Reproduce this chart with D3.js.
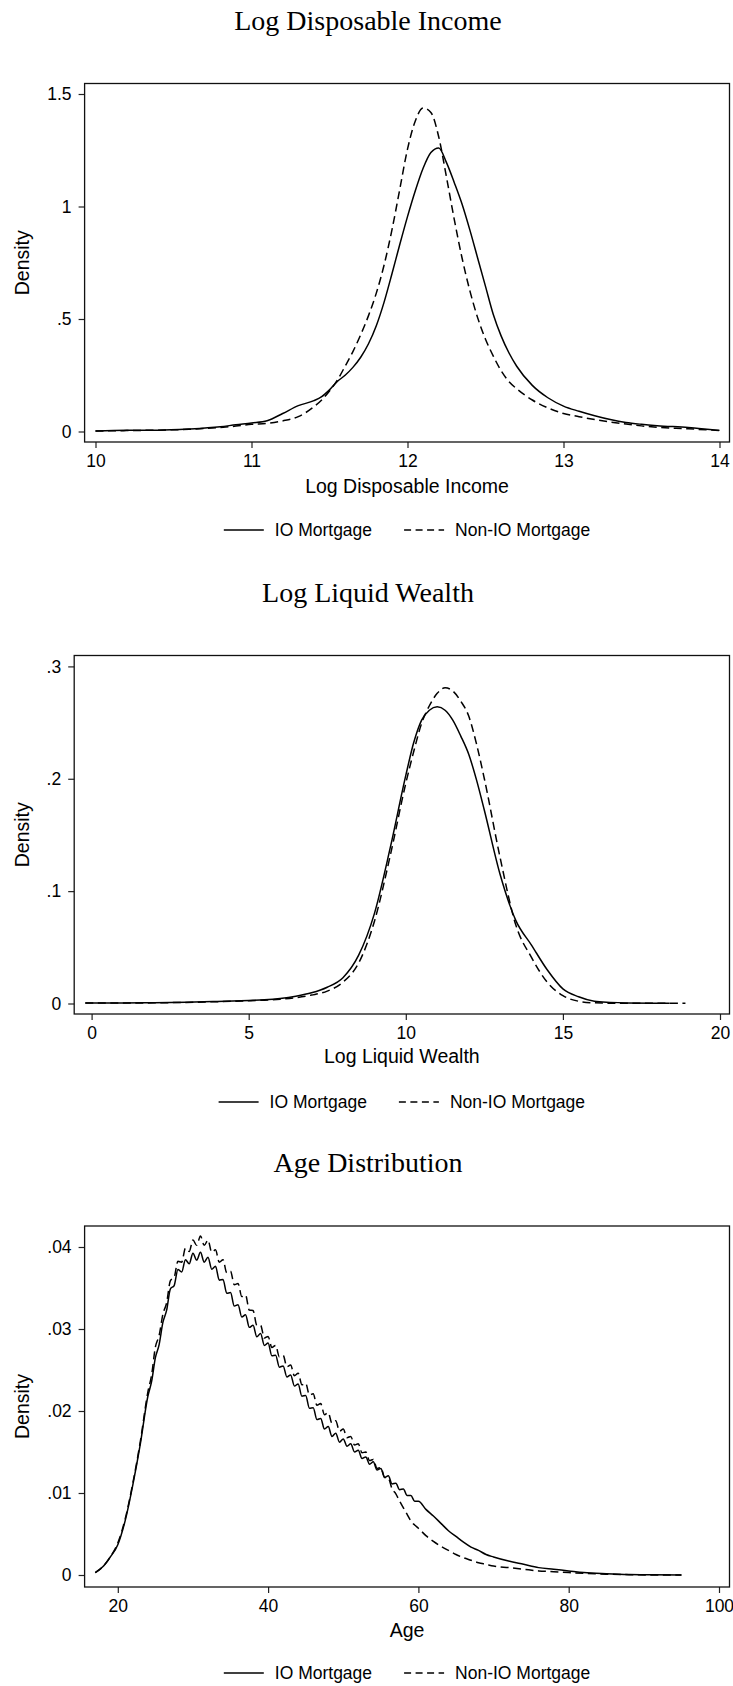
<!DOCTYPE html>
<html>
  <head>
    <meta charset="utf-8">
    <title>IO vs Non-IO mortgage densities</title>
    <script src="https://d3js.org/d3.v7.min.js"></script>
    <style>
      body { margin: 0; background: #fff; }
      svg { display: block; }
      .title { font-family: "Liberation Serif", "Times New Roman", serif; font-size: 28px; fill: #000; }
      .sans { font-family: "Liberation Sans", Arial, sans-serif; fill: #000; }
    </style>
  </head>
  <body>
    <svg id="chart" width="733" height="1686"></svg>
    <script>
      // ---- data ----
      var seriesNames = ["IO Mortgage", "Non-IO Mortgage"];
      var titles = ["Log Disposable Income", "Log Liquid Wealth", "Age Distribution"];
      var xTitles = ["Log Disposable Income", "Log Liquid Wealth", "Age"];
      var yTitle = "Density";

      // log disposable income
      var incomeX = [10.0, 10.2, 10.4, 10.6, 10.8, 10.9, 11.0, 11.1, 11.2, 11.3, 11.4, 11.45, 11.5, 11.55, 11.6, 11.65,
        11.7, 11.75, 11.8, 11.85, 11.9, 11.95, 12.0, 12.05, 12.1, 12.15, 12.2, 12.25, 12.3, 12.35, 12.4, 12.45,
        12.5, 12.55, 12.6, 12.65, 12.7, 12.8, 12.9, 13.0, 13.1, 13.2, 13.3, 13.4, 13.5, 13.6, 13.8, 14.0];
      var incomeIO = [0.002, 0.006, 0.006, 0.011, 0.021, 0.03, 0.038, 0.048, 0.08, 0.115, 0.137, 0.155, 0.185, 0.222, 0.25, 0.285,
        0.33, 0.39, 0.47, 0.575, 0.70, 0.83, 0.955, 1.07, 1.17, 1.24, 1.26, 1.195, 1.106, 1.01, 0.895, 0.77,
        0.645, 0.52, 0.425, 0.35, 0.29, 0.205, 0.15, 0.113, 0.09, 0.07, 0.053, 0.04, 0.032, 0.026, 0.018, 0.005];
      var incomeNonIO = [0.002, 0.004, 0.006, 0.01, 0.018, 0.024, 0.032, 0.036, 0.047, 0.066, 0.11, 0.14, 0.18, 0.228, 0.29, 0.355,
        0.43, 0.515, 0.615, 0.74, 0.895, 1.075, 1.255, 1.38, 1.438, 1.418, 1.31, 1.13, 0.942, 0.77, 0.625, 0.505,
        0.41, 0.335, 0.27, 0.222, 0.19, 0.14, 0.105, 0.08, 0.066, 0.053, 0.042, 0.033, 0.025, 0.019, 0.012, 0.004];
      var incomeTicksX = [10, 11, 12, 13, 14];
      var incomeTicksY = [0, 0.5, 1, 1.5];
      var incomeLabelsY = ["0", ".5", "1", "1.5"];

      // log liquid wealth
      var wealthX = [-0.2, 1, 2, 3, 4, 5, 5.5, 6, 6.5, 7, 7.5, 8, 8.5, 9, 9.5, 10, 10.25, 10.5, 10.75, 11, 11.25, 11.5,
        11.75, 12, 12.25, 12.5, 13, 13.5, 14, 14.5, 15, 15.5, 16, 16.5, 17, 18.4, 18.9];
      var wealthIO = [0.0005, 0.0005, 0.0007, 0.0011, 0.0018, 0.0027, 0.0033, 0.0045, 0.0065, 0.0095, 0.0145, 0.023, 0.043,
        0.08, 0.138, 0.203, 0.232, 0.252, 0.261, 0.264, 0.261, 0.252, 0.238, 0.222, 0.199, 0.172, 0.115, 0.074, 0.052, 0.03,
        0.013, 0.006, 0.002, 0.001, 0.0005, 0.0002, null];
      var wealthNonIO = [0.0004, 0.0004, 0.0006, 0.001, 0.0016, 0.0024, 0.003, 0.0038, 0.0052, 0.0075, 0.011, 0.019, 0.036,
        0.073, 0.131, 0.196, 0.224, 0.249, 0.265, 0.276, 0.281, 0.278, 0.269, 0.256, 0.231, 0.20, 0.13, 0.07, 0.041, 0.019,
        0.007, 0.002, 0.0006, 0.0003, 0.0002, 0.0002, 0.0002];
      var wealthTicksX = [0, 5, 10, 15, 20];
      var wealthTicksY = [0, 0.1, 0.2, 0.3];
      var wealthLabelsY = ["0", ".1", ".2", ".3"];

      // age (single-year ages give the saw-tooth)
      var ageX = [17, 18, 19, 20, 21, 22, 23,
        24, 24.5, 25, 25.5, 26, 26.5, 27, 27.5, 28, 28.5, 29, 29.5, 30, 30.5, 31, 31.5, 32, 32.5, 33, 33.5,
        34, 34.5, 35, 35.5, 36, 36.5, 37, 37.5, 38, 38.5, 39, 39.5, 40, 40.5, 41, 41.5, 42, 42.5, 43, 43.5,
        44, 44.5, 45, 45.5, 46, 46.5, 47, 47.5, 48, 48.5, 49, 49.5, 50, 50.5, 51, 51.5, 52, 52.5, 53, 53.5,
        54, 54.5, 55, 55.5, 56, 56.5, 57, 57.5, 58, 58.5, 59, 59.5, 60,
        61, 62, 63, 64, 65, 66, 67, 68, 69, 70, 72, 74, 76, 78, 80, 82, 85, 88, 91, 95];
      var ageIO = [0.0003, 0.001, 0.0022, 0.0037, 0.0067, 0.011, 0.016,
        0.0218, 0.0236, 0.0265, 0.0281, 0.0308, 0.0323, 0.0349, 0.0353, 0.03725, 0.03695, 0.03845, 0.03795, 0.03925, 0.0384,
        0.03935, 0.03815, 0.03875, 0.0373, 0.03765, 0.03595,
        0.03605, 0.03435, 0.03445, 0.0328, 0.03295, 0.03145, 0.03175, 0.0302, 0.03045, 0.02905, 0.02945, 0.028, 0.0283,
        0.02675, 0.0268, 0.02535, 0.0255, 0.02415, 0.0244, 0.02305,
        0.0233, 0.0218, 0.0219, 0.02035, 0.0204, 0.01895, 0.0191, 0.0178, 0.0181, 0.0169, 0.0173, 0.0162, 0.0166, 0.0157,
        0.016, 0.015, 0.0152, 0.0142, 0.0144, 0.0135,
        0.0138, 0.0128, 0.013, 0.0119, 0.0121, 0.0111, 0.0112, 0.0104, 0.0105, 0.0097, 0.0097, 0.009, 0.009,
        0.008, 0.0072, 0.0063, 0.0054, 0.0047, 0.004, 0.0034, 0.003, 0.0025, 0.0022, 0.0017, 0.0013, 0.0009, 0.0007,
        0.0005, 0.0003, 0.00015, 0.00005, 0.00002, 0];
      var ageNonIO = [0.0003, 0.001, 0.0022, 0.0039, 0.0069, 0.0112, 0.0163,
        0.0223, 0.0244, 0.0278, 0.0292, 0.0318, 0.0332, 0.0359, 0.0363, 0.03825, 0.03815, 0.03985, 0.03945, 0.04085, 0.0402,
        0.04135, 0.0402, 0.04085, 0.03935, 0.03965, 0.03815,
        0.03845, 0.03685, 0.03705, 0.0354, 0.03555, 0.03395, 0.03415, 0.0323, 0.03225, 0.03045, 0.03045, 0.0289, 0.0291,
        0.02775, 0.028, 0.0266, 0.0268, 0.0254, 0.0256, 0.0243,
        0.0246, 0.0232, 0.0234, 0.02195, 0.0221, 0.0207, 0.0209, 0.01955, 0.0198, 0.0185, 0.0188, 0.01755, 0.0178, 0.01675,
        0.0169, 0.01585, 0.016, 0.0149, 0.015, 0.01395,
        0.0141, 0.013, 0.0131, 0.0119, 0.0118, 0.0105, 0.0099, 0.009, 0.0082, 0.0074, 0.0066, 0.0061, 0.0057,
        0.0048, 0.0041, 0.0035, 0.003, 0.0025, 0.0021, 0.0018, 0.0015, 0.0013, 0.0011, 0.0009, 0.0007, 0.0005, 0.0004,
        0.0003, 0.0002, 0.0001, 0.00004, 0.00001, 0];
      var ageTicksX = [20, 40, 60, 80, 100];
      var ageTicksY = [0, 0.01, 0.02, 0.03, 0.04];
      var ageLabelsY = ["0", ".01", ".02", ".03", ".04"];

      // ---- page layout: one stacked panel per variable ----
      var panels = [
        { title: titles[0], xTitle: xTitles[0], xs: incomeX, io: incomeIO, nonIO: incomeNonIO,
          xTicks: incomeTicksX, yTicks: incomeTicksY, yLabels: incomeLabelsY,
          left: 84.6, right: 729.5, top: 83.5, bottom: 442,
          xRange: [95.5, 719.5], yRange: [431.5, 94],
          titleY: 30, xTitleY: 493, legendY: 530 },
        { title: titles[1], xTitle: xTitles[1], xs: wealthX, io: wealthIO, nonIO: wealthNonIO,
          xTicks: wealthTicksX, yTicks: wealthTicksY, yLabels: wealthLabelsY,
          left: 74.2, right: 729.5, top: 655.5, bottom: 1014,
          xRange: [91.6, 720], yRange: [1003.5, 666.4],
          titleY: 602, xTitleY: 1063, legendY: 1102 },
        { title: titles[2], xTitle: xTitles[2], xs: ageX, io: ageIO, nonIO: ageNonIO,
          xTicks: ageTicksX, yTicks: ageTicksY, yLabels: ageLabelsY,
          left: 84.6, right: 729.5, top: 1226, bottom: 1587,
          xRange: [117.8, 719], yRange: [1575, 1247],
          titleY: 1172, xTitleY: 1637, legendY: 1673 }
      ];

      var dash = "8,4.5";

      var svg = d3.select("#chart");
      svg.append("rect").attr("width", 733).attr("height", 1686).attr("fill", "#fff");

      panels.forEach(function(p) {
        var x = d3.scaleLinear().domain(d3.extent(p.xTicks)).range(p.xRange);
        var y = d3.scaleLinear().domain(d3.extent(p.yTicks)).range(p.yRange);
        var g = svg.append("g");

        // panel title
        g.append("text")
          .attr("class", "title")
          .attr("x", 368)
          .attr("y", p.titleY)
          .attr("text-anchor", "middle")
          .text(p.title);

        // axes
        var xAxis = d3.axisBottom(x)
          .tickValues(p.xTicks)
          .tickSize(6)
          .tickPadding(7)
          .tickFormat(d3.format("d"));
        var yAxis = d3.axisLeft(y)
          .tickValues(p.yTicks)
          .tickSize(6)
          .tickPadding(7)
          .tickFormat(function(d, i) { return p.yLabels[i]; });
        var gx = g.append("g")
          .attr("transform", "translate(0," + p.bottom + ")")
          .call(xAxis);
        var gy = g.append("g")
          .attr("transform", "translate(" + p.left + ",0)")
          .call(yAxis);
        [gx, gy].forEach(function(a) {
          a.select(".domain").remove();
          a.selectAll(".tick line").attr("stroke", "#222").attr("stroke-width", 1.2);
          a.selectAll(".tick text")
            .attr("fill", "#000")
            .attr("font-family", "'Liberation Sans', Arial, sans-serif")
            .attr("font-size", 17.5);
        });

        // plot frame
        g.append("rect")
          .attr("x", p.left)
          .attr("y", p.top)
          .attr("width", p.right - p.left)
          .attr("height", p.bottom - p.top)
          .attr("fill", "none")
          .attr("stroke", "#111")
          .attr("stroke-width", 1.3);

        // density curves
        var line = d3.line()
          .defined(function(d) { return d[1] != null; })
          .x(function(d) { return x(d[0]); })
          .y(function(d) { return y(d[1]); })
          .curve(d3.curveMonotoneX);
        g.append("path")
          .datum(d3.zip(p.xs, p.io))
          .attr("fill", "none")
          .attr("stroke", "#000")
          .attr("stroke-width", 1.5)
          .attr("d", line);
        g.append("path")
          .datum(d3.zip(p.xs, p.nonIO))
          .attr("fill", "none")
          .attr("stroke", "#000")
          .attr("stroke-width", 1.5)
          .attr("stroke-dasharray", dash)
          .attr("d", line);

        // axis titles
        g.append("text")
          .attr("class", "sans")
          .attr("font-size", 19.5)
          .attr("x", (p.left + p.right) / 2)
          .attr("y", p.xTitleY)
          .attr("text-anchor", "middle")
          .text(p.xTitle);
        g.append("text")
          .attr("class", "sans")
          .attr("font-size", 19.5)
          .attr("transform", "translate(29," + (p.top + p.bottom) / 2 + ") rotate(-90)")
          .attr("text-anchor", "middle")
          .text(yTitle);

        // legend, centred under the plot region
        var lg = g.append("g").attr("class", "sans").attr("font-size", 17.5);
        var t1 = lg.append("text").attr("class", "sans").attr("y", p.legendY + 6).text(seriesNames[0]);
        var t2 = lg.append("text").attr("class", "sans").attr("y", p.legendY + 6).text(seriesNames[1]);
        var w1 = t1.node().getComputedTextLength();
        var w2 = t2.node().getComputedTextLength();
        var total = 40 + 11 + w1 + 32 + 40 + 11 + w2;
        var sx = (p.left + p.right) / 2 - total / 2;
        lg.append("line")
          .attr("x1", sx).attr("x2", sx + 40)
          .attr("y1", p.legendY).attr("y2", p.legendY)
          .attr("stroke", "#000").attr("stroke-width", 1.5);
        t1.attr("x", sx + 51);
        var sx2 = sx + 51 + w1 + 32;
        lg.append("line")
          .attr("x1", sx2).attr("x2", sx2 + 40)
          .attr("y1", p.legendY).attr("y2", p.legendY)
          .attr("stroke", "#000").attr("stroke-width", 1.5)
          .attr("stroke-dasharray", "7,4.5");
        t2.attr("x", sx2 + 51);
      });
    </script>
  </body>
</html>
